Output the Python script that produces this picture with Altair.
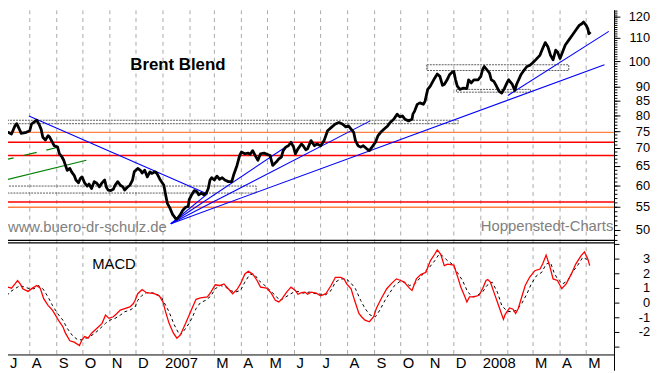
import altair as alt
import pandas as pd

# ---------------- data ----------------
PRICE_DATES = [
    "2006-07-03","2006-07-07","2006-07-11","2006-07-15","2006-07-17","2006-07-20","2006-07-22","2006-07-28",
    "2006-08-01","2006-08-03","2006-08-07","2006-08-09","2006-08-12","2006-08-14","2006-08-16","2006-08-19",
    "2006-08-22","2006-08-24","2006-08-27","2006-08-29","2006-09-02","2006-09-04","2006-09-07","2006-09-09",
    "2006-09-11","2006-09-13","2006-09-16","2006-09-18","2006-09-21","2006-09-23","2006-09-26","2006-09-28",
    "2006-09-30","2006-10-03","2006-10-06","2006-10-08","2006-10-11","2006-10-14","2006-10-17","2006-10-20",
    "2006-10-23","2006-10-26","2006-10-28","2006-10-30","2006-11-02","2006-11-05","2006-11-07","2006-11-10",
    "2006-11-13","2006-11-16","2006-11-18","2006-11-21","2006-11-24","2006-11-27","2006-11-29","2006-12-03",
    "2006-12-06","2006-12-08","2006-12-11","2006-12-14","2006-12-17","2006-12-19","2006-12-23","2006-12-25",
    "2006-12-29","2007-01-02","2007-01-04","2007-01-06","2007-01-09","2007-01-12","2007-01-16","2007-01-18",
    "2007-01-21","2007-01-24","2007-01-27","2007-01-30","2007-01-31","2007-02-03","2007-02-06","2007-02-09",
    "2007-02-11","2007-02-14","2007-02-17","2007-02-20","2007-02-22","2007-02-24","2007-02-26","2007-03-01",
    "2007-03-04","2007-03-07","2007-03-10","2007-03-13","2007-03-17","2007-03-21","2007-03-23","2007-03-27",
    "2007-03-30","2007-04-01","2007-04-05","2007-04-09","2007-04-11","2007-04-14","2007-04-17","2007-04-20",
    "2007-04-23","2007-04-27","2007-05-01","2007-05-04","2007-05-07","2007-05-11","2007-05-14","2007-05-17",
    "2007-05-19","2007-05-22","2007-05-25","2007-05-28","2007-05-31","2007-06-02","2007-06-05","2007-06-09",
    "2007-06-11","2007-06-14","2007-06-16","2007-06-20","2007-06-24","2007-06-27","2007-07-01","2007-07-05",
    "2007-07-09","2007-07-14","2007-07-18","2007-07-22","2007-07-26","2007-07-30","2007-08-02","2007-08-05",
    "2007-08-08","2007-08-10","2007-08-13","2007-08-16","2007-08-19","2007-08-23","2007-08-26","2007-08-29",
    "2007-09-02","2007-09-05","2007-09-08","2007-09-12","2007-09-16","2007-09-19","2007-09-23","2007-09-27",
    "2007-09-30","2007-10-03","2007-10-06","2007-10-10","2007-10-14","2007-10-15","2007-10-17","2007-10-20",
    "2007-10-23","2007-10-27","2007-10-29","2007-11-01","2007-11-04","2007-11-06","2007-11-09","2007-11-12",
    "2007-11-15","2007-11-18","2007-11-20","2007-11-23","2007-11-26","2007-11-29","2007-12-01","2007-12-03",
    "2007-12-05","2007-12-08","2007-12-12","2007-12-16","2007-12-18","2007-12-21","2007-12-24","2007-12-29",
    "2008-01-01","2008-01-03","2008-01-05","2008-01-08","2008-01-11","2008-01-13","2008-01-16","2008-01-19",
    "2008-01-22","2008-01-25","2008-01-28","2008-01-31","2008-02-02","2008-02-06","2008-02-09","2008-02-11",
    "2008-02-16","2008-02-20","2008-02-23","2008-02-26","2008-02-29","2008-03-04","2008-03-09","2008-03-12",
    "2008-03-15","2008-03-18","2008-03-21","2008-03-24","2008-03-27","2008-03-29","2008-04-01","2008-04-04",
    "2008-04-07","2008-04-11","2008-04-15","2008-04-19","2008-04-23","2008-04-26","2008-04-28","2008-05-01",
    "2008-05-03","2008-05-04","2008-05-06",
]
PRICE_VALUES = [
    74.3,74.8,74.3,76.8,77.5,75.8,74.5,74.8,
    75.3,77.4,78.2,78.6,77.1,75.8,73.3,72.5,
    73.8,73.3,71.8,70.8,70.4,68.5,67.6,66.7,
    65.3,64.0,64.5,63.6,62.7,61.5,60.8,61.9,
    62.3,60.8,60.0,60.5,59.4,61.1,60.7,59.8,
    60.8,61.5,59.7,59.0,58.9,59.2,60.2,61.1,
    60.2,59.8,59.0,59.7,60.2,61.5,63.6,64.5,
    64.0,63.3,64.0,62.3,63.6,63.2,63.6,63.2,
    61.5,60.2,57.9,55.9,54.8,53.4,52.4,52.6,
    53.4,54.4,55.0,55.2,56.7,57.9,58.9,58.6,
    57.9,58.3,57.9,58.4,59.4,61.5,62.1,61.5,
    62.5,61.7,62.1,61.5,61.1,61.1,62.7,65.3,
    68.0,69.0,68.5,68.7,68.3,69.4,68.0,66.7,
    68.5,68.7,68.3,68.0,65.3,66.2,67.1,67.6,
    69.4,70.4,70.8,71.8,70.4,68.5,69.9,71.3,
    70.8,69.6,69.9,72.3,70.8,71.3,70.8,72.3,
    75.3,76.5,77.4,77.9,77.4,76.5,76.8,75.8,
    74.8,72.3,70.8,70.4,70.8,69.9,69.4,70.4,
    71.8,73.8,74.8,75.8,76.8,77.9,78.9,80.6,
    79.7,80.0,78.9,78.4,78.9,80.6,81.6,83.9,
    84.4,83.9,85.0,89.2,90.4,91.6,93.4,95.0,
    94.1,90.7,91.0,92.6,94.7,95.7,96.0,92.8,
    90.4,89.2,89.7,89.5,92.8,91.6,92.8,92.8,
    94.1,96.7,98.0,96.7,95.4,92.8,92.2,90.4,
    88.5,87.9,89.5,91.6,92.8,91.2,88.8,91.0,
    94.7,96.7,98.0,98.4,99.3,100.7,102.7,105.5,
    108.1,106.3,102.7,100.7,104.8,104.1,101.3,104.1,
    107.0,109.2,111.4,113.7,116.0,116.8,117.6,116.0,
    114.4,112.1,112.9,
]

MACD_DATES = [
    "2006-06-28","2006-07-03","2006-07-07","2006-07-11","2006-07-15","2006-07-18","2006-07-21","2006-07-24",
    "2006-07-30","2006-08-04","2006-08-09","2006-08-13","2006-08-17","2006-08-22","2006-08-27","2006-08-31",
    "2006-09-04","2006-09-08","2006-09-11","2006-09-16","2006-09-21","2006-09-27","2006-09-30","2006-10-03",
    "2006-10-07","2006-10-11","2006-10-15","2006-10-19","2006-10-23","2006-10-27","2006-10-31","2006-11-05",
    "2006-11-09","2006-11-13","2006-11-18","2006-11-24","2006-11-28","2006-11-30","2006-12-03","2006-12-08",
    "2006-12-13","2006-12-22","2006-12-28","2007-01-01","2007-01-04","2007-01-08","2007-01-13","2007-01-17",
    "2007-01-21","2007-01-27","2007-01-31","2007-02-04","2007-02-08","2007-02-13","2007-02-21","2007-02-25",
    "2007-03-02","2007-03-07","2007-03-12","2007-03-17","2007-03-22","2007-03-27","2007-03-31","2007-04-05",
    "2007-04-09","2007-04-14","2007-04-19","2007-04-23","2007-04-30","2007-05-05","2007-05-10","2007-05-14",
    "2007-05-17","2007-05-23","2007-05-28","2007-06-02","2007-06-05","2007-06-09","2007-06-13","2007-06-16",
    "2007-06-20","2007-06-26","2007-07-01","2007-07-07","2007-07-13","2007-07-18","2007-07-24","2007-07-28",
    "2007-07-31","2007-08-05","2007-08-09","2007-08-14","2007-08-17","2007-08-21","2007-08-26","2007-08-31",
    "2007-09-03","2007-09-09","2007-09-15","2007-09-20","2007-09-26","2007-10-01","2007-10-05","2007-10-11",
    "2007-10-14","2007-10-19","2007-10-24","2007-10-30","2007-11-04","2007-11-09","2007-11-12","2007-11-16",
    "2007-11-20","2007-11-24","2007-12-01","2007-12-05","2007-12-09","2007-12-13","2007-12-16","2007-12-19",
    "2007-12-24","2007-12-30","2008-01-03","2008-01-07","2008-01-09","2008-01-12","2008-01-16","2008-01-22",
    "2008-01-27","2008-01-29","2008-02-03","2008-02-07","2008-02-10","2008-02-13","2008-02-17","2008-02-21",
    "2008-02-26","2008-03-03","2008-03-09","2008-03-12","2008-03-16","2008-03-20","2008-03-24","2008-03-29",
    "2008-04-03","2008-04-08","2008-04-14","2008-04-19","2008-04-25","2008-04-29","2008-05-03","2008-05-05",
]
MACD_VALUES = [
    0.19,0.86,1.09,1.02,1.31,1.54,1.31,0.98,
    0.80,1.02,1.20,1.02,0.30,-0.15,-0.48,-0.87,
    -1.27,-1.61,-2.05,-2.57,-2.66,-2.89,-2.50,-2.28,
    -2.39,-2.05,-1.83,-1.61,-1.38,-0.82,-1.04,-0.93,
    -0.71,-0.48,-0.37,-0.26,-0.03,0.19,0.64,0.93,
    0.71,0.64,0.48,0.08,-0.60,-1.38,-2.05,-2.39,
    -2.17,-1.38,-0.82,-0.26,0.26,0.35,0.42,0.75,
    1.25,1.20,1.31,0.98,0.64,0.93,1.31,1.99,
    2.17,1.99,1.54,1.09,1.02,0.71,0.19,0.08,
    0.24,0.75,1.09,0.86,0.60,0.71,0.75,0.60,
    0.75,0.68,0.50,0.64,1.20,1.76,1.76,1.65,
    1.31,0.98,0.19,-0.71,-0.93,-1.16,-1.27,-0.93,
    -0.37,0.35,0.98,1.31,1.65,1.54,1.43,1.02,
    0.86,1.65,1.94,2.10,2.88,3.33,3.63,3.33,
    2.55,2.66,2.59,1.87,1.09,0.53,0.08,0.42,
    0.42,0.53,0.98,1.54,1.61,1.43,0.75,-0.26,
    -1.11,-0.77,-0.33,-0.42,-0.71,-0.37,0.42,1.20,
    1.76,2.21,2.32,2.66,3.27,2.55,1.65,1.54,
    0.98,1.31,1.99,2.66,3.22,3.49,3.00,2.55,
]

SIGNAL_DATES = [
    "2006-06-28","2006-07-03","2006-07-09","2006-07-15","2006-07-21","2006-07-26","2006-08-01","2006-08-06",
    "2006-08-11","2006-08-16","2006-08-22","2006-08-27","2006-09-02","2006-09-08","2006-09-13","2006-09-19",
    "2006-09-25","2006-09-30","2006-10-05","2006-10-09","2006-10-15","2006-10-21","2006-10-27","2006-11-01",
    "2006-11-07","2006-11-13","2006-11-18","2006-11-24","2006-11-30","2006-12-03","2006-12-08","2006-12-13",
    "2006-12-19","2006-12-24","2006-12-30","2007-01-02","2007-01-08","2007-01-14","2007-01-20","2007-01-23",
    "2007-01-27","2007-01-31","2007-02-04","2007-02-08","2007-02-13","2007-02-19","2007-02-25","2007-03-02",
    "2007-03-08","2007-03-14","2007-03-19","2007-03-25","2007-03-31","2007-04-05","2007-04-11","2007-04-17",
    "2007-04-23","2007-04-28","2007-05-04","2007-05-10","2007-05-15","2007-05-19","2007-05-25","2007-05-31",
    "2007-06-05","2007-06-11","2007-06-18","2007-06-26","2007-07-03","2007-07-07","2007-07-13","2007-07-18",
    "2007-07-24","2007-07-30","2007-08-04","2007-08-10","2007-08-16","2007-08-21","2007-08-27","2007-09-02",
    "2007-09-07","2007-09-13","2007-09-19","2007-09-24","2007-09-30","2007-10-05","2007-10-11","2007-10-17",
    "2007-10-23","2007-10-28","2007-11-03","2007-11-09","2007-11-14","2007-11-18","2007-11-24","2007-11-29",
    "2007-12-05","2007-12-11","2007-12-17","2007-12-23","2007-12-28","2008-01-03","2008-01-08","2008-01-14",
    "2008-01-20","2008-01-25","2008-01-31","2008-02-06","2008-02-11","2008-02-17","2008-02-23","2008-02-28",
    "2008-03-05","2008-03-11","2008-03-16","2008-03-21","2008-03-25","2008-03-29","2008-04-04","2008-04-10",
    "2008-04-15","2008-04-21","2008-04-27","2008-05-01","2008-05-05",
]
SIGNAL_VALUES = [
    -0.15,0.30,0.75,0.98,1.20,1.09,0.98,0.98,
    1.20,0.98,0.42,-0.15,-0.71,-1.16,-1.72,-2.21,
    -2.50,-2.50,-2.39,-2.28,-2.05,-1.72,-1.38,-1.16,
    -1.04,-0.82,-0.59,-0.48,-0.26,0.19,0.53,0.71,
    0.71,0.64,0.42,0.08,-0.60,-1.49,-2.17,-2.05,
    -1.72,-1.38,-0.93,-0.37,0.03,0.19,0.48,0.98,
    1.20,1.09,0.86,0.75,0.86,1.43,1.99,1.87,
    1.43,1.20,0.86,0.53,0.19,0.30,0.53,0.75,
    0.80,0.68,0.75,0.64,0.60,0.57,0.86,1.43,
    1.65,1.65,1.43,0.98,0.19,-0.37,-0.82,-0.93,
    -0.48,0.19,0.75,1.20,1.47,1.43,1.20,1.31,
    1.70,2.10,2.44,2.88,3.33,3.22,2.88,2.66,
    2.10,1.54,0.75,0.42,0.53,0.75,1.20,1.43,
    0.75,-0.15,-0.55,-0.60,-0.48,-0.03,0.64,1.31,
    1.87,2.10,2.66,2.77,2.10,1.65,1.31,1.54,
    2.10,2.55,3.11,3.00,2.88,
]

# horizontal support / resistance levels
ORANGE_LEVELS = [74.8, 55.0]
RED_LEVELS = [71.8, 68.0, 56.2]

# grey boxes (consolidation zones)
BOX_START = ["2006-07-06", "2006-06-28", "2007-10-31", "2007-12-04"]
BOX_END = ["2007-12-06", "2007-04-18", "2008-04-11", "2008-02-27"]
BOX_LOW = [77.5, 58.3, 96.4, 88.2]
BOX_HIGH = [78.6, 60.0, 98.7, 89.2]

# blue trend lines (pairs of end points)
TREND_ID = ["down", "down", "f1", "f1", "f2", "f2", "f3", "f3", "f4", "f4", "up08", "up08"]
TREND_DATES = ["2006-07-31", "2007-02-21",
               "2007-01-10", "2007-02-21",
               "2007-01-10", "2007-05-30",
               "2007-01-10", "2007-08-27",
               "2007-01-10", "2008-05-22",
               "2008-02-01", "2008-05-27"]
TREND_PRICES = [80.0, 58.1,
                51.4, 58.1,
                51.4, 71.8,
                51.4, 78.4,
                51.4, 98.7,
                87.0, 113.2]

GREEN_DASHED_DATES = ["2006-06-28", "2006-08-31"]
GREEN_DASHED_PRICES = [66.5, 70.2]
GREEN_SOLID_DATES = ["2006-06-28", "2006-10-05"]
GREEN_SOLID_PRICES = [61.2, 66.7]

MONTH_STARTS = ["2006-07-01","2006-08-01","2006-09-01","2006-10-01","2006-11-01","2006-12-01",
                "2007-01-01","2007-02-01","2007-03-01","2007-04-01","2007-05-01","2007-06-01",
                "2007-07-01","2007-08-01","2007-09-01","2007-10-01","2007-11-01","2007-12-01",
                "2008-01-01","2008-02-01","2008-03-01","2008-04-01","2008-05-01"]
MONTH_LABEL_DATES = ["2006-07-01","2006-08-01","2006-09-01","2006-10-01","2006-11-01","2006-12-01",
                     "2007-01-01","2007-03-01","2007-04-01","2007-05-01","2007-06-01",
                     "2007-07-01","2007-08-01","2007-09-01","2007-10-01","2007-11-01","2007-12-01",
                     "2008-01-01","2008-03-01","2008-04-01","2008-05-01"]
MONTH_LABELS = ["J","A","S","O","N","D","2007","M","A","M","J",
                "J","A","S","O","N","D","2008","M","A","M"]

PRICE_TICK_LABELS = [50, 55, 60, 65, 70, 75, 80, 85, 90, 100, 110, 120]
PRICE_MINOR_TICKS = list(range(48, 124))
MACD_TICK_LABELS = [-2, -1, 0, 1, 2, 3]
MACD_TICKS = [-3, -2, -1, 0, 1, 2, 3, 4]

TITLE_TEXT = "Brent Blend"
MACD_TEXT = "MACD"
SOURCE_LEFT = "www.buero-dr-schulz.de"
SOURCE_RIGHT = "Hoppenstedt-Charts"

# ---------------- styling / scales ----------------
W, H = 614, 349
NARROW = "'Liberation Sans Narrow', 'Arial Narrow', 'Liberation Sans', sans-serif"
SANS = "'Liberation Sans', Arial, sans-serif"

XSCALE = alt.Scale(type="utc",
                   domain=[alt.DateTime(year=2006, month=7, date=7, utc=True),
                           alt.DateTime(year=2008, month=6, date=2, hours=12, minutes=45, utc=True)])
PSCALE = alt.Scale(type="log", domain=[48.01, 123.45], range=[233, 0], nice=False)
MSCALE = alt.Scale(type="linear", domain=[-3.535, 4.074], range=[349, 236], nice=False, zero=False)


def X(field="date"):
    return alt.X(f"{field}:T", scale=XSCALE, axis=None)


def YP(field="price"):
    return alt.Y(f"{field}:Q", scale=PSCALE, axis=None)


def YM(field="v"):
    return alt.Y(f"{field}:Q", scale=MSCALE, axis=None)


price_df = pd.DataFrame({"date": PRICE_DATES, "price": PRICE_VALUES})
macd_df = pd.DataFrame({"date": MACD_DATES, "v": MACD_VALUES})
signal_df = pd.DataFrame({"date": SIGNAL_DATES, "v": SIGNAL_VALUES})
orange_df = pd.DataFrame({"price": ORANGE_LEVELS})
red_df = pd.DataFrame({"price": RED_LEVELS})
box_df = pd.DataFrame({"date": BOX_START, "date2": BOX_END, "price": BOX_LOW, "price2": BOX_HIGH})
trend_df = pd.DataFrame({"id": TREND_ID, "date": TREND_DATES, "price": TREND_PRICES})
gdash_df = pd.DataFrame({"date": GREEN_DASHED_DATES, "price": GREEN_DASHED_PRICES})
gsolid_df = pd.DataFrame({"date": GREEN_SOLID_DATES, "price": GREEN_SOLID_PRICES})
grid_df = pd.DataFrame({"date": MONTH_STARTS})
mlab_df = pd.DataFrame({"date": MONTH_LABEL_DATES, "label": MONTH_LABELS})
pticklab_df = pd.DataFrame({"price": PRICE_TICK_LABELS, "label": [str(v) for v in PRICE_TICK_LABELS]})
pminor_df = pd.DataFrame({"price": PRICE_MINOR_TICKS})
mticklab_df = pd.DataFrame({"v": MACD_TICK_LABELS, "label": [str(v) for v in MACD_TICK_LABELS]})
mtick_df = pd.DataFrame({"v": MACD_TICKS})
frame_df = pd.DataFrame({"k": [0]})

layers = []

# month grid
layers.append(alt.Chart(grid_df).mark_rule(color="#a8a8a8", strokeWidth=1, strokeDash=[4, 4], clip=True)
              .encode(x=X()))

# boxes
layers.append(alt.Chart(box_df).mark_rect(fillOpacity=0, stroke="#5a5a5a", strokeWidth=1,
                                          strokeDash=[2, 1], clip=True)
              .encode(x=X(), x2="date2:T", y=YP(), y2="price2:Q"))

# horizontal levels
layers.append(alt.Chart(orange_df).mark_rule(color="#ff8040", strokeWidth=1.3).encode(y=YP()))
layers.append(alt.Chart(red_df).mark_rule(color="#ff0000", strokeWidth=1.6).encode(y=YP()))

# green channel lines
layers.append(alt.Chart(gdash_df).mark_line(color="#008000", strokeWidth=1.2, strokeDash=[14, 10], clip=True)
              .encode(x=X(), y=YP()))
layers.append(alt.Chart(gsolid_df).mark_line(color="#008000", strokeWidth=1.2, clip=True)
              .encode(x=X(), y=YP()))

# blue trend lines
layers.append(alt.Chart(trend_df).mark_line(color="#0000ff", strokeWidth=1.1, clip=True)
              .encode(x=X(), y=YP(), detail="id:N"))

# price line
layers.append(alt.Chart(price_df).mark_line(color="black", strokeWidth=2.8, strokeJoin="round", clip=True)
              .encode(x=X(), y=YP()))

# MACD + signal
layers.append(alt.Chart(signal_df).mark_line(color="black", strokeWidth=1, strokeDash=[3, 3], clip=True)
              .encode(x=X(), y=YM()))
layers.append(alt.Chart(macd_df).mark_line(color="#ff0000", strokeWidth=1.3, clip=True)
              .encode(x=X(), y=YM()))

# panel separator (double line), bottom axis line and right axis line
layers.append(alt.Chart(frame_df).mark_rule(color="black", strokeWidth=1.2)
              .encode(x=alt.value(0), x2=alt.value(W), y=alt.value(233)))
layers.append(alt.Chart(frame_df).mark_rule(color="black", strokeWidth=1.2)
              .encode(x=alt.value(0), x2=alt.value(W), y=alt.value(235.5)))
layers.append(alt.Chart(frame_df).mark_rule(color="black", strokeWidth=1)
              .encode(x=alt.value(0), x2=alt.value(W), y=alt.value(H)))
layers.append(alt.Chart(frame_df).mark_rule(color="black", strokeWidth=1)
              .encode(x=alt.value(W), y=alt.value(0), y2=alt.value(H + 16)))

# month separators + labels (a label whose month starts before the visible range is kept at the left edge)
layers.append(alt.Chart(mlab_df).mark_rule(color="black", strokeWidth=1, clip=True)
              .encode(x=X(), y=alt.value(H), y2=alt.value(H + 16)))
layers.append(alt.Chart(mlab_df)
              .transform_calculate(lx="max(toDate(datum.date), utc(2006, 6, 7))")
              .mark_text(align="left", baseline="alphabetic", dx=2,
                         font=NARROW, fontSize=15, color="black")
              .encode(x=X("lx"), y=alt.value(362.5), text="label:N"))

# right price axis ticks + labels
layers.append(alt.Chart(pminor_df).mark_rule(color="black", strokeWidth=1)
              .encode(x=alt.value(W), x2=alt.value(W + 3), y=YP()))
layers.append(alt.Chart(pticklab_df).mark_rule(color="black", strokeWidth=1)
              .encode(x=alt.value(W), x2=alt.value(W + 6), y=YP()))
layers.append(alt.Chart(pticklab_df).mark_text(align="right", baseline="middle", font=NARROW,
                                               fontSize=13, color="black")
              .encode(x=alt.value(650), y=YP(), text="label:N"))

# right MACD axis ticks + labels
layers.append(alt.Chart(mtick_df).mark_rule(color="black", strokeWidth=1)
              .encode(x=alt.value(W), x2=alt.value(W + 5), y=YM()))
layers.append(alt.Chart(mticklab_df).mark_text(align="right", baseline="middle", font=NARROW,
                                               fontSize=13, color="black")
              .encode(x=alt.value(650), y=YM(), text="label:N"))

# annotations
layers.append(alt.Chart(pd.DataFrame({"t": [TITLE_TEXT]})).mark_text(
    align="center", baseline="alphabetic", font=SANS, fontSize=17, fontWeight="bold", color="black")
    .encode(x=alt.value(172), y=alt.value(60.3), text="t:N"))
layers.append(alt.Chart(pd.DataFrame({"t": [MACD_TEXT]})).mark_text(
    align="center", baseline="alphabetic", font=NARROW, fontSize=15, color="black")
    .encode(x=alt.value(107.3), y=alt.value(262), text="t:N"))
layers.append(alt.Chart(pd.DataFrame({"t": [SOURCE_LEFT]})).mark_text(
    align="left", baseline="alphabetic", font=NARROW, fontSize=15, color="#808080")
    .encode(x=alt.value(0), y=alt.value(225), text="t:N"))
layers.append(alt.Chart(pd.DataFrame({"t": [SOURCE_RIGHT]})).mark_text(
    align="left", baseline="alphabetic", font=NARROW, fontSize=15, color="#808080")
    .encode(x=alt.value(478.7), y=alt.value(224), text="t:N"))

chart = (alt.layer(*layers)
         .resolve_scale(y="independent")
         .properties(width=W, height=H,
                     autosize=alt.AutoSizeParams(type="none"),
                     padding={"left": 0, "top": 0, "right": 41, "bottom": 16})
         .configure_view(stroke=None))

chart.save("out.html", embed_options={"renderer": "svg", "actions": False})
